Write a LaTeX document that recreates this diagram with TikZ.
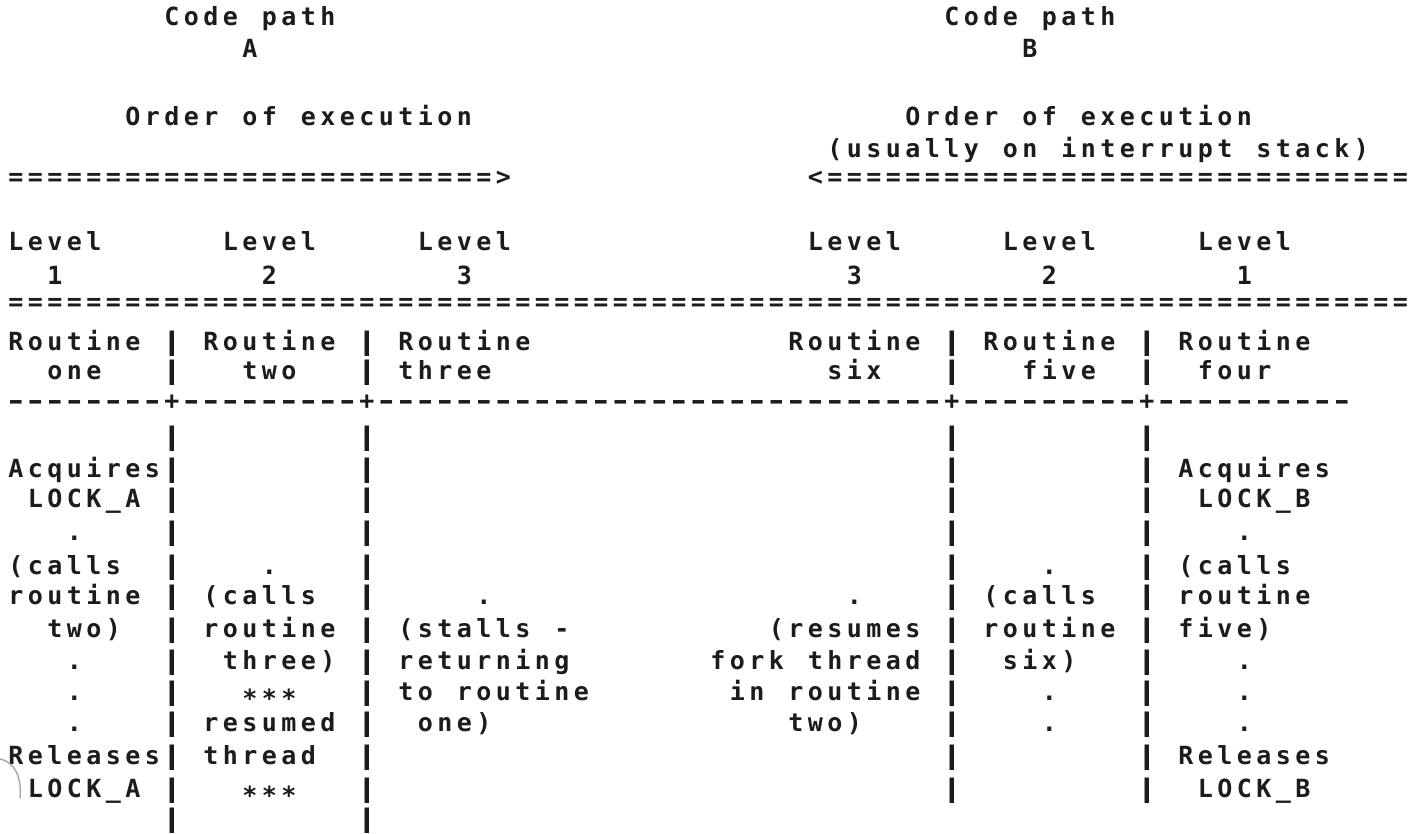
\documentclass[tikz,border=0pt]{standalone}
\usepackage{fontspec}
\usepackage{graphicx}
\setmonofont{DejaVu Sans Mono}
\definecolor{ink}{HTML}{1C1C1C}
\newlength\cw \setlength\cw{19.5pt}
\def\monochars#1{\ifx#1\relax\else\hbox to\cw{\hss#1\hss}\expandafter\monochars\fi}
\newcommand\mono[1]{\monochars#1\relax}
\newcount\repn
\def\rep#1#2{\repn=#1\relax\loop\ifnum\repn>0 \hbox to\cw{\hss#2\hss}\advance\repn-1\repeat}
\newcommand\lowstar{\raisebox{-7pt}{*}}
\newcommand\dsh{\scalebox{1.5}[1]{-}}
\newcommand\vb{\scalebox{1.6}[1.02]{|}}
\newcounter{tk}
\newcommand\tk[3]{\stepcounter{tk}\node[txt] (t\arabic{tk}) at ({6.25+19.5*#1},{#2+7}) {\mono{#3}};}
\newcommand\tkraw[3]{\stepcounter{tk}\node[txt] (t\arabic{tk}) at ({6.25+19.5*#1},{#2+7}) {#3};}
\newcommand\bars[2]{\foreach \c in {#2} {\tk{\c}{#1}{\vb}}}
\begin{document}
\begin{tikzpicture}[x=1pt,y=-1pt,
  txt/.style={anchor=base west,inner sep=0pt,outer sep=0pt,text=ink,
    font=\ttfamily\bfseries\fontsize{25}{29}\selectfont}]
\fill[white] (0,0) rectangle (1414,833);
\useasboundingbox (0,0) rectangle (1414,833);
% headers
\tk{8}{18}{Code~path}
\tk{48}{18}{Code~path}
\tk{12}{50}{A}
\tk{52}{50}{B}
\tk{6}{118}{Order~of~execution}
\tk{46}{118}{Order~of~execution}
\tk{42}{150}{(usually~on~interrupt~stack)}
\tkraw{0}{178}{\rep{25}{=}\mono{>}}
\tkraw{41}{178}{\mono{<}\rep{30}{=}}
% levels
\foreach \c in {0,11,21,41,51,61} {\tk{\c}{243}{Level}}
\tk{2}{277}{1}
\tk{13}{277}{2}
\tk{23}{277}{3}
\tk{43}{277}{3}
\tk{53}{277}{2}
\tk{63}{277}{1}
\tkraw{0}{303}{\rep{72}{=}}
% routine headers
\tk{0}{343}{Routine~\vb~Routine~\vb~Routine}
\tk{40}{343}{Routine~\vb~Routine~\vb~Routine}
\tk{2}{372}{one}
\tk{12}{372}{two}
\tk{20}{372}{three}
\tk{42}{372}{six}
\tk{52}{372}{five}
\tk{61}{372}{four}
\bars{372}{8,18,48,58}
\tkraw{0}{402}{\rep{8}{\dsh}\mono{+}\rep{9}{\dsh}\mono{+}\rep{29}{\dsh}\mono{+}\rep{9}{\dsh}\mono{+}\rep{10}{\dsh}}
% body
\bars{438}{8,18,48,58}
\tk{0}{470}{Acquires\vb}
\bars{470}{18,48}
\tk{58}{470}{\vb~Acquires}
\tk{1}{500}{LOCK\_A}
\tk{61}{500}{LOCK\_B}
\bars{500}{8,18,48,58}
\tk{3}{533}{.}
\tk{63}{533}{.}
\bars{533}{8,18,48,58}
\tk{0}{567}{(calls}
\tk{13}{567}{.}
\tk{53}{567}{.}
\tk{60}{567}{(calls}
\bars{567}{8,18,48,58}
\tk{0}{597}{routine}
\tk{10}{597}{(calls}
\tk{24}{597}{.}
\tk{43}{597}{.}
\tk{50}{597}{(calls}
\tk{60}{597}{routine}
\bars{597}{8,18,48,58}
\tk{2}{630}{two)}
\tk{10}{630}{routine}
\tk{20}{630}{(stalls~-}
\tk{39}{630}{(resumes}
\tk{50}{630}{routine}
\tk{60}{630}{five)}
\bars{630}{8,18,48,58}
\tk{3}{662}{.}
\tk{11}{662}{three)}
\tk{20}{662}{returning}
\tk{36}{662}{fork~thread}
\tk{51}{662}{six)}
\tk{63}{662}{.}
\bars{662}{8,18,48,58}
\tk{3}{693}{.}
\tk{12}{693}{\lowstar\lowstar\lowstar}
\tk{20}{693}{to~routine}
\tk{37}{693}{in~routine}
\tk{53}{693}{.}
\tk{63}{693}{.}
\bars{693}{8,18,48,58}
\tk{3}{724}{.}
\tk{10}{724}{resumed}
\tk{21}{724}{one)}
\tk{40}{724}{two)}
\tk{53}{724}{.}
\tk{63}{724}{.}
\bars{724}{8,18,48,58}
\tk{0}{757}{Releases\vb}
\tk{10}{757}{thread}
\bars{757}{18,48}
\tk{58}{757}{\vb~Releases}
\tk{1}{790}{LOCK\_A}
\tk{12}{790}{\lowstar\lowstar\lowstar}
\tk{61}{790}{LOCK\_B}
\bars{790}{8,18,48,58}
\bars{820}{8,18}
% scan artifact
\draw[gray!70,line width=1.4pt] (0,759) .. controls (15,762) and (22,778) .. (20,798);
\end{tikzpicture}
\end{document}
